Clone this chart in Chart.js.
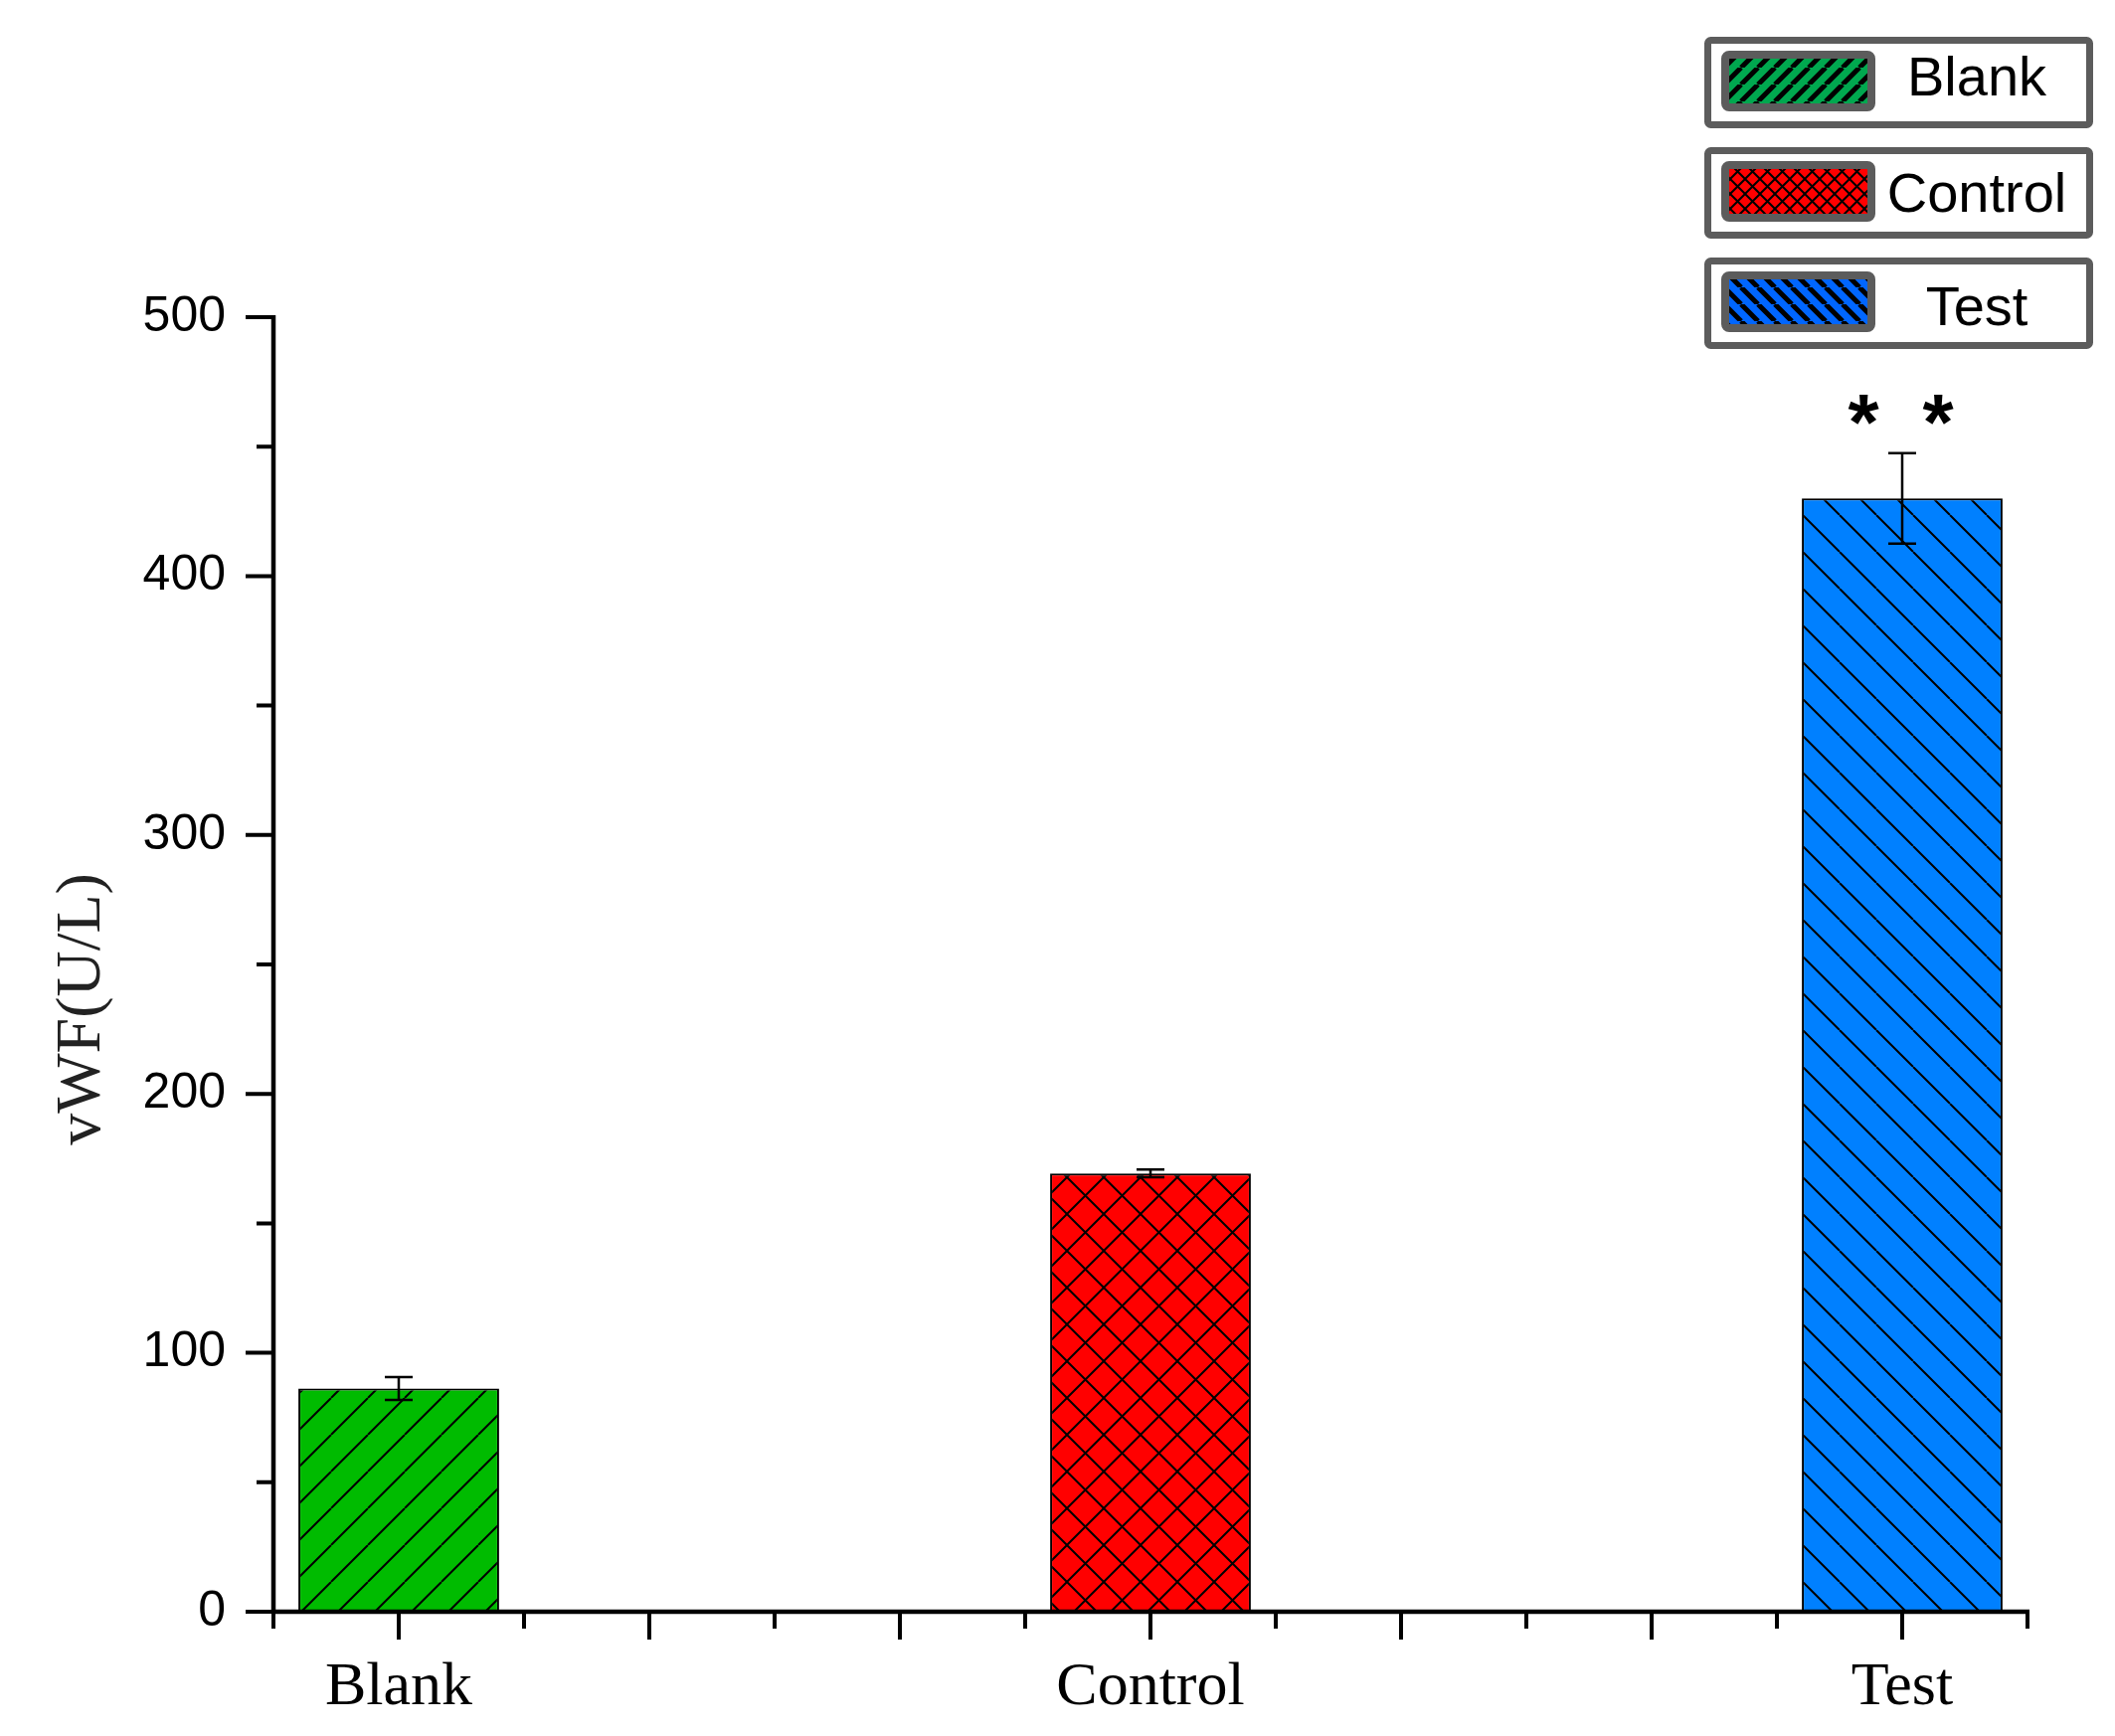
<!DOCTYPE html>
<html>
<head>
<meta charset="utf-8">
<script src="https://cdn.jsdelivr.net/npm/chart.js@4.4.1/dist/chart.umd.min.js"></script>
<style>
  body { margin: 0; background: #fff; }
  #wrap { width: 2127px; height: 1746px; }
</style>
</head>
<body>
<div id="wrap"><canvas id="vwf" width="2127" height="1746"></canvas></div>
<script>
const categories = ["Blank", "Control", "Test"];
const values = [86.2, 169.3, 430];
const errors = [4.4, 1.5, 17.5];
const yTicks = [0, 100, 200, 300, 400, 500];
const yMinor = [50, 150, 250, 350, 450];
const barColors = ["#00bb00", "#ff0000", "#0080ff"];
const legendColors = ["#00a84f", "#ff0000", "#0066ff"];
const hatchKinds = ["fwd", "cross", "back"];
const marks = ["", "", "*   *"];

// hatch tile -> canvas pattern
const makeHatch = (color, kind, size, lw) => {
    const c = document.createElement("canvas");
    c.width = size; c.height = size;
    const g = c.getContext("2d");
    g.fillStyle = color;
    g.fillRect(0, 0, size, size);
    g.strokeStyle = "#000";
    g.lineWidth = lw;
    g.beginPath();
    for (let k = -1; k <= 1; k++) {
        if (kind === "fwd" || kind === "cross") {
            g.moveTo(k * size, size);
            g.lineTo(k * size + size, 0);
        }
        if (kind === "back" || kind === "cross") {
            g.moveTo(k * size, 0);
            g.lineTo(k * size + size, size);
        }
    }
    g.stroke();
    return g.createPattern(c, "repeat");
};

const ctx = document.getElementById("vwf").getContext("2d");
const barFills = categories.map((_, i) => makeHatch(barColors[i], hatchKinds[i], 37, 2));
const legendFills = categories.map((_, i) =>
    makeHatch(legendColors[i], hatchKinds[i], hatchKinds[i] === "cross" ? 15 : 17, hatchKinds[i] === "cross" ? 2 : 5));

const decor = {
    id: "decor",
    afterDraw(chart) {
        const c = chart.ctx;
        const xs = chart.scales.x, ys = chart.scales.y;
        const area = chart.chartArea;
        c.save();
        c.strokeStyle = "#000";
        c.lineCap = "butt";

        // error bars
        c.lineWidth = 2.5;
        const bars = chart.getDatasetMeta(0).data;
        bars.forEach((bar, i) => {
            const hi = ys.getPixelForValue(values[i] + errors[i]);
            const lo = ys.getPixelForValue(values[i] - errors[i]);
            c.beginPath();
            c.moveTo(bar.x, hi); c.lineTo(bar.x, lo);
            c.moveTo(bar.x - 14, hi); c.lineTo(bar.x + 14, hi);
            c.moveTo(bar.x - 14, lo); c.lineTo(bar.x + 14, lo);
            c.stroke();
            if (marks[i]) {
                c.font = "bold 80px 'Liberation Sans'";
                c.fillStyle = "#000";
                const m = c.measureText("*");
                const cy = hi - 44;
                const base = cy + (m.actualBoundingBoxAscent - m.actualBoundingBoxDescent) / 2;
                c.textAlign = "center";
                c.fillText("*", bar.x - 39, base);
                c.fillText("*", bar.x + 36, base);
            }
        });

        // axis lines
        c.lineWidth = 4.5;
        c.beginPath();
        c.moveTo(area.left, area.top - 2);
        c.lineTo(area.left, area.bottom + 2);
        c.moveTo(area.left - 2, area.bottom);
        c.lineTo(area.right + 2, area.bottom);
        c.stroke();

        // y ticks
        c.lineWidth = 4;
        c.beginPath();
        yTicks.forEach(v => {
            const p = ys.getPixelForValue(v);
            c.moveTo(area.left - 28, p); c.lineTo(area.left, p);
        });
        yMinor.forEach(v => {
            const p = ys.getPixelForValue(v);
            c.moveTo(area.left - 17, p); c.lineTo(area.left, p);
        });
        // x ticks: long every 1/3, short between
        for (let k = -1; k <= 13; k++) {
            const p = xs.getPixelForValue(k / 6);
            const len = k % 2 === 0 ? 28 : 17;
            c.moveTo(p, area.bottom); c.lineTo(p, area.bottom + len);
        }
        c.stroke();

        // y title
        c.save();
        c.translate(83, 1015);
        c.rotate(-Math.PI / 2);
        c.font = "64px 'Liberation Serif'";
        c.fillStyle = "#222";
        c.textAlign = "center";
        c.textBaseline = "middle";
        c.fillText("vWF(U/L)", 0, 0);
        c.restore();

        // legend boxes
        const tops = [37, 148, 259];
        const baselines = [96, 213, 327];
        categories.forEach((name, i) => {
            const t = tops[i];
            c.lineWidth = 7;
            c.strokeStyle = "#5c5c5c";
            c.beginPath();
            c.roundRect(1717.5, t + 3.5, 384, 85, 3);
            c.stroke();
            c.fillStyle = legendFills[i];
            c.fillRect(1735, t + 18, 147, 53);
            c.lineWidth = 8;
            c.beginPath();
            c.roundRect(1735, t + 18, 147, 53, 4);
            c.stroke();
            c.fillStyle = "#000";
            c.font = "56px 'Liberation Sans'";
            c.textAlign = "center";
            c.textBaseline = "alphabetic";
            c.fillText(name, 1988, baselines[i]);
        });
        c.restore();
    }
};

new Chart(ctx, {
    type: "bar",
    data: {
        datasets: [{
            data: categories.map((_, i) => ({x: i, y: values[i]})),
            backgroundColor: barFills,
            borderColor: "#000",
            borderWidth: 2,
            categoryPercentage: 1,
            barPercentage: 0.267
        }]
    },
    options: {
        responsive: false,
        animation: false,
        layout: {padding: {top: 319, right: 88, left: 0, bottom: 0}},
        scales: {
            x: {
                type: "linear",
                offset: false,
                min: -1 / 6,
                max: 13 / 6,
                grid: {display: false, drawTicks: false, offset: false},
                border: {display: false},
                afterBuildTicks: s => { s.ticks = categories.map((_, i) => ({value: i})); },
                afterFit: s => { s.height = 125; },
                ticks: {
                    padding: 40,
                    color: "#000",
                    font: {family: "'Liberation Serif'", size: 62},
                    callback: v => categories[v]
                }
            },
            y: {
                min: 0,
                max: 500,
                grid: {display: false, drawTicks: false},
                border: {display: false},
                afterBuildTicks: s => { s.ticks = yTicks.map(v => ({value: v})); },
                afterFit: s => { s.width = 275; },
                ticks: {
                    padding: 48,
                    color: "#000",
                    font: {family: "'Liberation Sans'", size: 50}
                }
            }
        },
        plugins: {
            legend: {display: false},
            tooltip: {enabled: false}
        }
    },
    plugins: [decor]
});
</script>
</body>
</html>
